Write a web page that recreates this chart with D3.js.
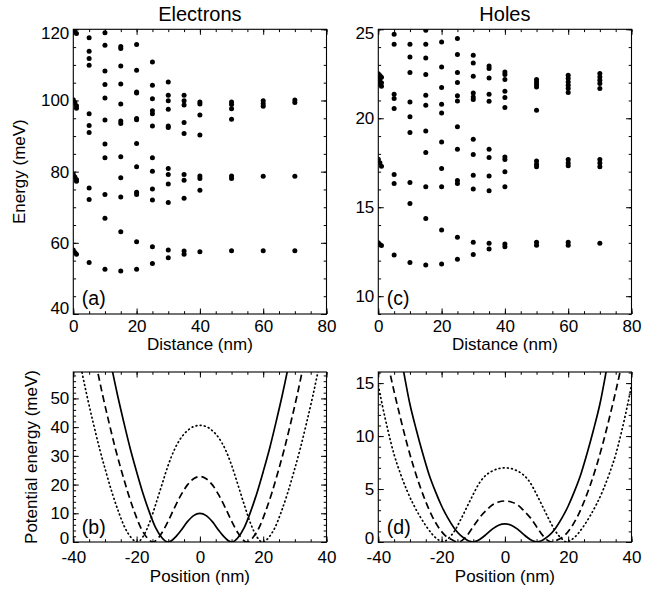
<!DOCTYPE html>
<html><head><meta charset="utf-8">
<script src="https://cdn.jsdelivr.net/npm/d3@7/dist/d3.min.js"></script>
<style>
html,body{margin:0;padding:0;background:#fff;}
text{font-family:"Liberation Sans",Arial,Helvetica,sans-serif;fill:#000;}
</style></head>
<body>
<svg id="chart" width="665" height="593"></svg>
<script>
// ---------------- DATA ----------------
// (a) Electrons: energy levels (meV) at each inter-dot distance (nm)
const elecDist = [0, 0.5, 1, 5, 10, 15, 20, 25, 30, 35, 40, 50, 60, 70];
const elecLevels = [
  [120, 100.2, 79.2, 58],
  [119.5, 99.4, 78.5, 57.3],
  [118.8, 98.5, 97.8, 77.8, 77.3, 56.8],
  [117.6, 113.8, 111.8, 109.9, 96.3, 93.0, 91.0, 75.4, 72.2, 54.5],
  [119.0, 115.5, 108.3, 104.5, 100.7, 94.5, 87.8, 83.9, 73.6, 66.9, 52.6],
  [115.2, 114.6, 109.7, 104.6, 99.0, 94.2, 93.5, 84.2, 78.3, 72.9, 63.1, 52.1],
  [115.7, 108.5, 102.4, 102.1, 94.9, 94.6, 87.9, 81.4, 74.2, 73.6, 60.3, 52.6],
  [110.8, 104.3, 100.5, 97.1, 96.3, 92.8, 83.9, 80.1, 75.1, 72.0, 58.9, 54.2],
  [105.2, 101.5, 99.9, 97.5, 92.8, 92.4, 80.9, 79.2, 76.5, 71.3, 58.0, 55.8],
  [101.5, 99.9, 98.7, 93.8, 90.7, 79.2, 77.6, 72.5, 57.7, 56.8],
  [99.6, 99.0, 95.9, 90.3, 78.8, 78.1, 74.8, 57.5],
  [99.6, 98.9, 97.7, 94.7, 78.8, 78.1, 57.8],
  [99.9, 99.1, 98.4, 78.7, 57.8],
  [100.1, 99.4, 78.7, 57.8]
];
// (c) Holes: energy levels (meV)
const holeDist = [0, 0.5, 1, 5, 10, 15, 20, 25, 30, 35, 40, 50, 60, 70];
const holeLevels = [
  [22.5, 22.3, 22.1, 17.7, 13.0],
  [22.4, 22.2, 21.9, 17.5, 12.9],
  [22.3, 22.0, 21.8, 17.3, 12.85],
  [24.72, 24.16, 21.35, 21.11, 20.55, 16.84, 16.34, 12.31],
  [24.16, 23.45, 22.57, 20.92, 20.08, 19.2, 16.39, 15.21, 11.9],
  [24.94, 24.16, 23.39, 22.46, 21.29, 20.73, 19.29, 18.08, 16.15, 14.37, 11.75],
  [24.29, 22.88, 21.73, 20.79, 20.3, 18.67, 17.18, 16.15, 13.72, 11.81],
  [24.48, 23.58, 22.57, 22.01, 21.26, 20.97, 19.52, 18.26, 16.5, 16.33, 13.31, 12.07],
  [23.54, 23.11, 22.36, 21.42, 21.2, 21.05, 18.82, 17.96, 16.8, 16.02, 13.03, 12.35],
  [22.94, 22.8, 22.27, 21.35, 20.96, 18.26, 17.8, 16.76, 15.92, 12.97, 12.65],
  [22.6, 22.46, 22.18, 21.52, 21.17, 20.61, 17.83, 17.68, 16.99, 16.15, 12.93, 12.78],
  [22.18, 22.04, 21.9, 21.76, 20.45, 17.6, 17.42, 17.27, 13.03, 12.87],
  [22.42, 22.23, 22.04, 21.86, 21.67, 21.45, 17.68, 17.49, 17.33, 13.03, 12.87],
  [22.51, 22.32, 22.14, 21.95, 21.67, 17.68, 17.49, 17.27, 12.97]
];

// (b) Electron potentials: position (nm) and potential energy (meV)
const solidEPos = [-34,-32,-30,-28,-26,-24,-22,-20,-18,-16,-14,-12,-11,-10,-9,-8,-6,-4,-2,0,2,4,6,8,9,10,11,12,14,16,18,20,22,24,26,28,30,32,34];
const solidEVal = [97,85,73,61.5,51,41.5,32.5,24.5,17,10.5,5,1.5,0.4,0,0.45,1.4,4.0,7.0,9.2,10,9.2,7.0,4.0,1.4,0.45,0,0.4,1.5,5,10.5,17,24.5,32.5,41.5,51,61.5,73,85,97];
const dashEPos = [-36.7,-34.7,-32.7,-30.7,-28.7,-26.7,-24.7,-22.7,-20.7,-18.7,-16.7,-15.7,-14.7,-13.5,-12,-10,-8,-6,-4,-2,0,2,4,6,8,10,12,13.5,14.7,15.7,16.7,18.7,20.7,22.7,24.7,26.7,28.7,30.7,32.7,34.7,36.7];
const dashEVal = [85,73,61.5,51,41.5,32.5,24.5,17,10.5,5,1.5,0.4,0,0.9,3.2,7.3,12,16.3,19.8,22,22.8,22,19.8,16.3,12,7.3,3.2,0.9,0,0.4,1.5,5,10.5,17,24.5,32.5,41.5,51,61.5,73,85];
const dotEPos = [-40,-39.7,-37.7,-35.7,-33.7,-31.7,-29.7,-27.7,-25.7,-23.7,-21.7,-20.7,-19.7,-19,-18,-16,-14,-12,-10,-8,-6,-4,-2,0,2,4,6,8,10,12,14,16,18,19,19.7,20.7,21.7,23.7,25.7,27.7,29.7,31.7,33.7,35.7,37.7,39.7,40];
const dotEVal = [75,73,61.5,51,41.5,32.5,24.5,17,10.5,5,1.5,0.4,0,0.4,1.8,6.5,13,20,26.8,32.3,36.2,38.7,40.2,40.6,40.2,38.7,36.2,32.3,26.8,20,13,6.5,1.8,0.4,0,0.4,1.5,5,10.5,17,24.5,32.5,41.5,51,61.5,73,75];

// (d) Hole potentials
const solidHPos = [-34,-32,-30,-28,-26,-24,-22,-20,-18,-16,-14,-12,-11,-10,-9,-8,-6,-4,-2,0,2,4,6,8,9,10,11,12,14,16,18,20,22,24,26,28,30,32,34];
const solidHVal = [19.4,16.1,13.0,10.6,8.4,6.4,4.8,3.4,2.25,1.3,0.62,0.2,0.06,0,0.08,0.24,0.69,1.21,1.59,1.72,1.59,1.21,0.69,0.24,0.08,0,0.06,0.2,0.62,1.3,2.25,3.4,4.8,6.4,8.4,10.6,13.0,16.1,19.4];
const dashHPos = [-39,-37,-35,-33,-31,-29,-27,-25,-23,-21,-19,-17,-16,-14.7,-13.5,-12,-10,-8,-6,-4,-2,0,2,4,6,8,10,12,13.5,14.7,16,17,19,21,23,25,27,29,31,33,35,37,39];
const dashHVal = [19.8,16.9,14.2,11.7,9.35,7.25,5.4,3.8,2.45,1.4,0.65,0.25,0.1,0,0.15,0.6,1.45,2.3,2.95,3.5,3.78,3.87,3.78,3.5,2.95,2.3,1.45,0.6,0.15,0,0.1,0.25,0.65,1.4,2.45,3.8,5.4,7.25,9.35,11.7,14.2,16.9,19.8];
const dotHPos = [-40,-39,-37,-35,-33,-31,-29,-27,-25,-23,-21,-19.5,-18,-16,-14,-12,-10,-8,-6,-4,-2,0,2,4,6,8,10,12,14,16,18,19.5,21,23,25,27,29,31,33,35,37,39,40];
const dotHVal = [14.8,13.3,10.6,8.25,6.45,4.9,3.6,2.5,1.55,0.75,0.2,0,0.3,1.0,2.1,3.3,4.5,5.6,6.3,6.7,6.93,7.0,6.93,6.7,6.3,5.6,4.5,3.3,2.1,1.0,0.3,0,0.2,0.75,1.55,2.5,3.6,4.9,6.45,8.25,10.6,13.3,14.8];

// tick labels
const distTicks = [0, 20, 40, 60, 80];
const elecETicks = [40, 60, 80, 100, 120];
const holeETicks = [10, 15, 20, 25];
const posTicks = [-40, -20, 0, 20, 40];
const elecVTicks = [0, 10, 20, 30, 40, 50];
const holeVTicks = [0, 5, 10, 15];

// ---------------- DRAW ----------------
const svg = d3.select("#chart");
svg.append("rect").attr("width",665).attr("height",593).attr("fill","#fff");

const FS = 17;
const panels = {
  a:{l:73.3,r:326.5,t:29.3,b:314,xpad:6,xt:35.5},
  c:{l:378.3,r:631.5,t:29.3,b:314,xpad:6,xt:35.5},
  b:{l:73.3,r:326.5,t:372,b:542,xpad:8.5,xt:40},
  d:{l:378.3,r:631.5,t:372,b:542,xpad:8.5,xt:40}
};

function range(a,b,s){const o=[];for(let v=a;v<=b+1e-9;v+=s)o.push(+v.toFixed(6));return o;}
const fmt = d => String(d);

function frame(id, p, x, y, xMajor, xMinor, yMajor, yMinor, xLab, yLab, tag, edgeShift){
  const g = svg.append("g");
  const M = 5.5, m = 2.8;
  const ax = g.append("g").attr("transform",`translate(0,${p.b})`)
    .call(d3.axisBottom(x).tickValues(xMajor).tickSize(-M).tickPadding(p.xpad).tickFormat(fmt));
  g.append("g").attr("transform",`translate(0,${p.b})`)
    .call(d3.axisBottom(x).tickValues(xMinor).tickSize(-m).tickFormat(""));
  g.append("g").attr("transform",`translate(0,${p.t})`)
    .call(d3.axisTop(x).tickValues(xMajor).tickSize(-M).tickFormat(""));
  g.append("g").attr("transform",`translate(0,${p.t})`)
    .call(d3.axisTop(x).tickValues(xMinor).tickSize(-m).tickFormat(""));
  const ay = g.append("g").attr("transform",`translate(${p.l},0)`)
    .call(d3.axisLeft(y).tickValues(yMajor).tickSize(-M).tickPadding(4).tickFormat(fmt));
  g.append("g").attr("transform",`translate(${p.l},0)`)
    .call(d3.axisLeft(y).tickValues(yMinor).tickSize(-m).tickFormat(""));
  g.append("g").attr("transform",`translate(${p.r},0)`)
    .call(d3.axisRight(y).tickValues(yMajor).tickSize(-M).tickFormat(""));
  g.append("g").attr("transform",`translate(${p.r},0)`)
    .call(d3.axisRight(y).tickValues(yMinor).tickSize(-m).tickFormat(""));
  g.selectAll(".domain").remove();
  g.selectAll(".tick line").attr("stroke","#000").attr("stroke-width",1);
  g.selectAll("text").attr("font-size",FS).attr("font-family",'"Liberation Sans",Arial,sans-serif').attr("fill","#000");
  ax.selectAll("text").attr("dy","0.71em");
  ay.selectAll(".tick").each(function(d){
    if (edgeShift[d] !== undefined) d3.select(this).select("text").attr("dy", (0.32*FS + edgeShift[d]) + "px");
  });
  g.append("rect").attr("x",p.l).attr("y",p.t).attr("width",p.r-p.l).attr("height",p.b-p.t)
    .attr("fill","none").attr("stroke","#000").attr("stroke-width",1.1);
  g.append("text").attr("x",(p.l+p.r)/2).attr("y",p.b+p.xt).attr("text-anchor","middle")
    .attr("font-size",FS).text(xLab);
  if (yLab) {
    g.append("text").attr("transform",`translate(${yLab.x},${(p.t+p.b)/2}) rotate(-90)`)
      .attr("text-anchor","middle").attr("font-size",FS).text(yLab.t);
  }
  g.append("text").attr("x",p.l+8.5).attr("y",p.b-tag.dy).attr("font-size",19.5).text(tag.t);
  svg.append("clipPath").attr("id","clip"+id).append("rect")
    .attr("x",p.l).attr("y",p.t).attr("width",p.r-p.l).attr("height",p.b-p.t);
}

// ---- (a) ----
const xa = d3.scaleLinear().domain([0,80]).range([panels.a.l,panels.a.r]);
const ya = d3.scaleLinear().domain([40,120]).range([panels.a.b,panels.a.t]);
frame("a",panels.a,xa,ya,distTicks,range(0,80,5),elecETicks,range(40,120,5),
  "Distance (nm)",{x:25,t:"Energy (meV)"},{t:"(a)",dy:9},{40:-6,120:4});
const ptsA = [];
elecDist.forEach((d,i)=>elecLevels[i].forEach(e=>ptsA.push([d,e])));
svg.append("g").attr("clip-path","url(#clipa)").selectAll("circle").data(ptsA).join("circle")
  .attr("cx",d=>xa(d[0])).attr("cy",d=>ya(d[1])).attr("r",2.5).attr("fill","#000");

// ---- (c) ----
const xc = d3.scaleLinear().domain([0,80]).range([panels.c.l,panels.c.r]);
const yc = d3.scaleLinear().domain([9,25]).range([panels.c.b,panels.c.t]);
frame("c",panels.c,xc,yc,distTicks,range(0,80,5),holeETicks,range(9,25,1),
  "Distance (nm)",null,{t:"(c)",dy:9},{25:4});
const ptsC = [];
holeDist.forEach((d,i)=>holeLevels[i].forEach(e=>ptsC.push([d,e])));
svg.append("g").attr("clip-path","url(#clipc)").selectAll("circle").data(ptsC).join("circle")
  .attr("cx",d=>xc(d[0])).attr("cy",d=>yc(d[1])).attr("r",2.5).attr("fill","#000");

// ---- (b) ----
const xb = d3.scaleLinear().domain([-40,40]).range([panels.b.l,panels.b.r]);
const yb = d3.scaleLinear().domain([0,59.2]).range([panels.b.b,panels.b.t]);
frame("b",panels.b,xb,yb,posTicks,range(-40,40,5),elecVTicks,range(0,58,2),
  "Position (nm)",{x:37,t:"Potential energy (meV)"},{t:"(b)",dy:8},{0:-3.5});
// ---- (d) ----
const xd = d3.scaleLinear().domain([-40,40]).range([panels.d.l,panels.d.r]);
const yd = d3.scaleLinear().domain([0,16.05]).range([panels.d.b,panels.d.t]);
frame("d",panels.d,xd,yd,posTicks,range(-40,40,5),holeVTicks,range(0,16,1),
  "Position (nm)",null,{t:"(d)",dy:8},{0:-4});

function curve(id,x,y,pos,val,dash,cap){
  const line = d3.line().x(d=>x(d[0])).y(d=>y(d[1])).curve(d3.curveMonotoneX);
  const data = pos.map((p,i)=>[p,val[i]]);
  svg.append("path").attr("clip-path",`url(#clip${id})`).attr("d",line(data))
    .attr("fill","none").attr("stroke","#000").attr("stroke-width",1.7)
    .attr("stroke-dasharray",dash).attr("stroke-linecap",cap);
}
curve("b",xb,yb,solidEPos,solidEVal,null,"butt");
curve("b",xb,yb,dashEPos,dashEVal,"7,4","butt");
curve("b",xb,yb,dotEPos,dotEVal,"0.8,3.4","round");
curve("d",xd,yd,solidHPos,solidHVal,null,"butt");
curve("d",xd,yd,dashHPos,dashHVal,"7,4","butt");
curve("d",xd,yd,dotHPos,dotHVal,"0.8,3.4","round");

svg.append("text").attr("x",(panels.a.l+panels.a.r)/2).attr("y",20.5).attr("text-anchor","middle")
  .attr("font-size",20).text("Electrons");
svg.append("text").attr("x",(panels.c.l+panels.c.r)/2).attr("y",20.5).attr("text-anchor","middle")
  .attr("font-size",20).text("Holes");
</script>
</body></html>
